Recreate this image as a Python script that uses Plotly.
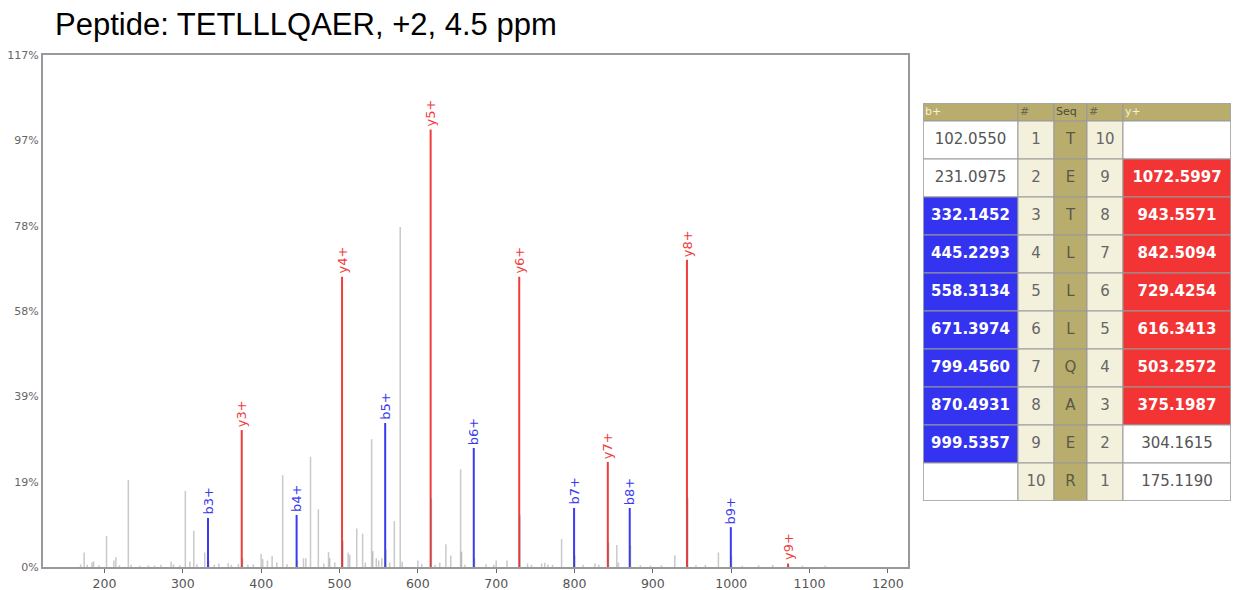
import plotly.graph_objects as go

# ---- peptide and fragment ion table ----
sequence = list("TETLLLQAER")
b_ions = [102.0550, 231.0975, 332.1452, 445.2293, 558.3134, 671.3974, 799.4560, 870.4931, 999.5357, None]
y_ions = [None, 1072.5997, 943.5571, 842.5094, 729.4254, 616.3413, 503.2572, 375.1987, 304.1615, 175.1190]
b_matched = [False, False, True, True, True, True, True, True, True, False]
y_matched = [False, True, True, True, True, True, True, True, False, False]
table_headers = ["b+", "#", "Seq", "#", "y+"]

# relative intensities (%) of the matched fragment peaks, keyed by ion number
b_intensity = {3: 11.2, 4: 11.9, 5: 32.9, 6: 27.2, 7: 13.5, 8: 13.5, 9: 9.1}
y_intensity = {3: 31.3, 4: 66.3, 5: 100.0, 6: 66.3, 7: 24.0, 8: 70.2, 9: 0.8}

# unassigned peaks (m/z, relative intensity %)
other_mz = [169.5, 174.0, 178.0, 184.0, 186.0, 193.0, 202.6, 212.0, 214.5, 219.0,
            230.4, 234.0, 245.0, 256.0, 264.0, 272.0, 285.0, 288.0, 296.0, 303.2,
            309.0, 314.0, 318.0, 328.0, 333.1, 340.0, 346.0, 358.0, 362.0, 371.0,
            376.2, 383.0, 390.0, 400.0, 402.0, 408.0, 414.0, 420.0, 427.5, 433.0,
            446.2, 454.0, 457.0, 463.0, 473.0, 480.0, 486.0, 487.5, 494.0, 504.3,
            511.0, 513.0, 522.0, 529.5, 533.0, 541.0, 542.5, 547.0, 550.0, 554.0,
            559.3, 564.0, 570.0, 577.5, 580.0, 600.0, 605.0, 617.3, 622.0, 628.0,
            635.8, 642.0, 654.6, 655.8, 660.0, 672.4, 687.0, 697.0, 700.0, 713.8,
            730.4, 740.0, 745.0, 758.0, 762.0, 766.0, 772.0, 783.5, 800.5, 811.0,
            826.0, 831.0, 843.5, 854.0, 856.0, 871.5, 884.0, 897.0, 911.0, 928.0,
            944.6, 955.0, 967.0, 983.7, 1000.5, 1014.0, 1035.0, 1053.0, 1073.6, 1091.0,
            1120.0]
other_int = [0.6, 3.3, 0.5, 1.0, 1.3, 0.4, 7.1, 1.5, 2.2, 0.4,
             19.9, 0.5, 0.3, 0.4, 0.3, 0.5, 1.2, 0.6, 0.4, 17.4,
             1.2, 8.3, 0.6, 3.3, 1.5, 0.5, 0.8, 0.9, 0.5, 0.7,
             2.0, 0.5, 0.6, 3.0, 1.8, 1.5, 2.5, 1.0, 21.0, 0.7,
             1.5, 2.0, 2.0, 25.2, 13.2, 0.8, 3.4, 2.0, 1.0, 6.0,
             3.3, 2.8, 8.8, 7.6, 1.0, 29.2, 3.6, 2.0, 1.5, 2.0,
             4.0, 1.0, 10.5, 77.7, 1.2, 1.5, 0.7, 15.7, 0.5, 1.0,
             5.2, 2.6, 22.3, 3.5, 0.5, 2.0, 0.6, 0.5, 1.5, 1.5,
             11.8, 0.8, 0.5, 0.8, 1.0, 0.6, 0.5, 6.4, 2.6, 0.5,
             0.8, 0.5, 5.6, 5.0, 1.0, 5.0, 0.4, 0.3, 0.4, 2.7,
             15.8, 0.4, 0.5, 3.3, 2.5, 0.3, 0.4, 0.5, 0.3, 0.3,
             0.3]

y_tickvals = [0, 19.5, 39, 58.5, 78, 97.5, 117]
y_ticktext = ["0%", "19%", "39%", "58%", "78%", "97%", "117%"]
x_tickvals = [200, 300, 400, 500, 600, 700, 800, 900, 1000, 1100, 1200]

RED = "#f23c3c"
BLUE = "#3a3af2"
RED_FILL = "#f23434"
BLUE_FILL = "#3333f0"
OLIVE = "#b8ad6c"
CREAM = "#f3f1dc"
GRID = "#9a9a9a"

# table geometry in table-axis units (pixels)
col_widths = [95, 36, 33, 36, 108]
header_h = 18
row_h = 38


def stems(xs, hs):
    px, py = [], []
    for x, h in zip(xs, hs):
        px += [x, x, None]
        py += [0, h, None]
    return px, py


n = len(sequence)
b_x, b_h, b_lab = [], [], []
for i in range(n):
    if b_matched[i]:
        b_x.append(b_ions[i]); b_h.append(b_intensity[i + 1]); b_lab.append(f"b{i + 1}+")
y_x, y_h, y_lab = [], [], []
for i in range(n):
    if y_matched[i]:
        num = n - i
        y_x.append(y_ions[i]); y_h.append(y_intensity[num]); y_lab.append(f"y{num}+")

fig = go.Figure()

bx, by = stems(b_x, b_h)
fig.add_trace(go.Scatter(x=bx, y=by, mode="lines", line=dict(color=BLUE, width=2),
                         hoverinfo="skip", showlegend=False))
yx, yy = stems(y_x, y_h)
fig.add_trace(go.Scatter(x=yx, y=yy, mode="lines", line=dict(color=RED, width=2),
                         hoverinfo="skip", showlegend=False))
ox, oy = stems(other_mz, other_int)
fig.add_trace(go.Scatter(x=ox, y=oy, mode="lines", line=dict(color="rgba(90,90,90,0.33)", width=1.5),
                         hoverinfo="skip", showlegend=False))

for x, h, t in zip(b_x, b_h, b_lab):
    fig.add_annotation(x=x, y=h, text=t, textangle=-90, showarrow=False,
                       xanchor="center", yanchor="bottom", yshift=1,
                       font=dict(family="DejaVu Sans", size=13, color=BLUE))
for x, h, t in zip(y_x, y_h, y_lab):
    fig.add_annotation(x=x, y=h, text=t, textangle=-90, showarrow=False,
                       xanchor="center", yanchor="bottom", yshift=1,
                       font=dict(family="DejaVu Sans", size=13, color=RED))

# ---- fragment table, drawn on its own axes ----
col_left = [sum(col_widths[:k]) for k in range(len(col_widths))]
col_mid = [col_left[k] + col_widths[k] / 2 for k in range(len(col_widths))]

b_text, y_text, b_fill, y_fill, b_font, y_font = [], [], [], [], [], []
for i in range(n):
    if b_ions[i] is None:
        b_text.append(""); b_fill.append("white"); b_font.append("#555")
    elif b_matched[i]:
        b_text.append(f"<b>{b_ions[i]:.4f}</b>"); b_fill.append(BLUE_FILL); b_font.append("white")
    else:
        b_text.append(f"{b_ions[i]:.4f}"); b_fill.append("white"); b_font.append("#555")
    if y_ions[i] is None:
        y_text.append(""); y_fill.append("white"); y_font.append("#555")
    elif y_matched[i]:
        y_text.append(f"<b>{y_ions[i]:.4f}</b>"); y_fill.append(RED_FILL); y_font.append("white")
    else:
        y_text.append(f"{y_ions[i]:.4f}"); y_fill.append("white"); y_font.append("#555")

b_num = [str(i + 1) for i in range(n)]
y_num = [str(n - i) for i in range(n)]
columns = [b_text, b_num, sequence, y_num, y_text]
fills = [b_fill, [CREAM] * n, [OLIVE] * n, [CREAM] * n, y_fill]
fonts = [b_font, ["#666"] * n, ["#585848"] * n, ["#666"] * n, y_font]
header_font = ["#f4f1de", "#6b6650", "#4a4a40", "#6b6650", "#f4f1de"]

# header cells
for k, w in enumerate(col_widths):
    fig.add_shape(type="rect", xref="x2", yref="y2", x0=col_left[k], x1=col_left[k] + w,
                  y0=0, y1=header_h, fillcolor=OLIVE, line=dict(color=GRID, width=1), layer="below")
# body cells
for k, w in enumerate(col_widths):
    for i in range(n):
        top = header_h + i * row_h
        fig.add_shape(type="rect", xref="x2", yref="y2", x0=col_left[k], x1=col_left[k] + w,
                      y0=top, y1=top + row_h, fillcolor=fills[k][i],
                      line=dict(color=GRID, width=1), layer="below")
# outer frame
fig.add_shape(type="rect", xref="x2", yref="y2", x0=0, x1=sum(col_widths),
              y0=0, y1=header_h + n * row_h, line=dict(color="#a8a8a8", width=1.5), layer="below")

fig.add_trace(go.Scatter(
    x=[col_left[k] + 2 for k in range(len(col_widths))], y=[header_h / 2] * len(col_widths),
    text=table_headers, mode="text", textposition="middle right", cliponaxis=False,
    textfont=dict(family="DejaVu Sans", size=11, color=header_font),
    xaxis="x2", yaxis="y2", hoverinfo="skip", showlegend=False))

for k in range(len(col_widths)):
    fig.add_trace(go.Scatter(
        x=[col_mid[k]] * n, y=[header_h + (i + 0.5) * row_h for i in range(n)],
        text=columns[k], mode="text", textposition="middle center", cliponaxis=False,
        textfont=dict(family="DejaVu Sans", size=15, color=fonts[k]),
        xaxis="x2", yaxis="y2", hoverinfo="skip", showlegend=False))

fig.add_annotation(xref="paper", yref="paper", x=0.0084, y=1.0586, xanchor="left", yanchor="middle",
                   text="Peptide: TETLLLQAER, +2, 4.5 ppm", showarrow=False,
                   font=dict(family="Liberation Sans", size=31, color="black"))

fig.update_layout(
    width=1244, height=590, margin=dict(l=43, r=13, t=55, b=23, autoexpand=False),
    paper_bgcolor="white", plot_bgcolor="white", showlegend=False,
    xaxis=dict(domain=[0, 0.7281], range=[121.5, 1225.7], tickvals=x_tickvals, showgrid=False, zeroline=False,
               showline=True, mirror=True, linecolor="#999", linewidth=2, automargin=False,
               ticks="outside", ticklen=4, tickcolor="#666",
               tickfont=dict(family="DejaVu Sans", size=12.5, color="#555")),
    yaxis=dict(range=[0, 117], tickvals=y_tickvals, ticktext=y_ticktext, showgrid=False, zeroline=False,
               showline=True, mirror=True, linecolor="#999", linewidth=2, ticks="", automargin=False,
               tickfont=dict(family="DejaVu Sans", size=11, color="#666")),
    xaxis2=dict(domain=[0.74074, 1.0], range=[0, sum(col_widths)], visible=False, fixedrange=True),
    yaxis2=dict(domain=[0.12891, 0.90625], range=[header_h + n * row_h, 0], visible=False,
                fixedrange=True, anchor="x2"),
)

fig.write_html("out.html")
